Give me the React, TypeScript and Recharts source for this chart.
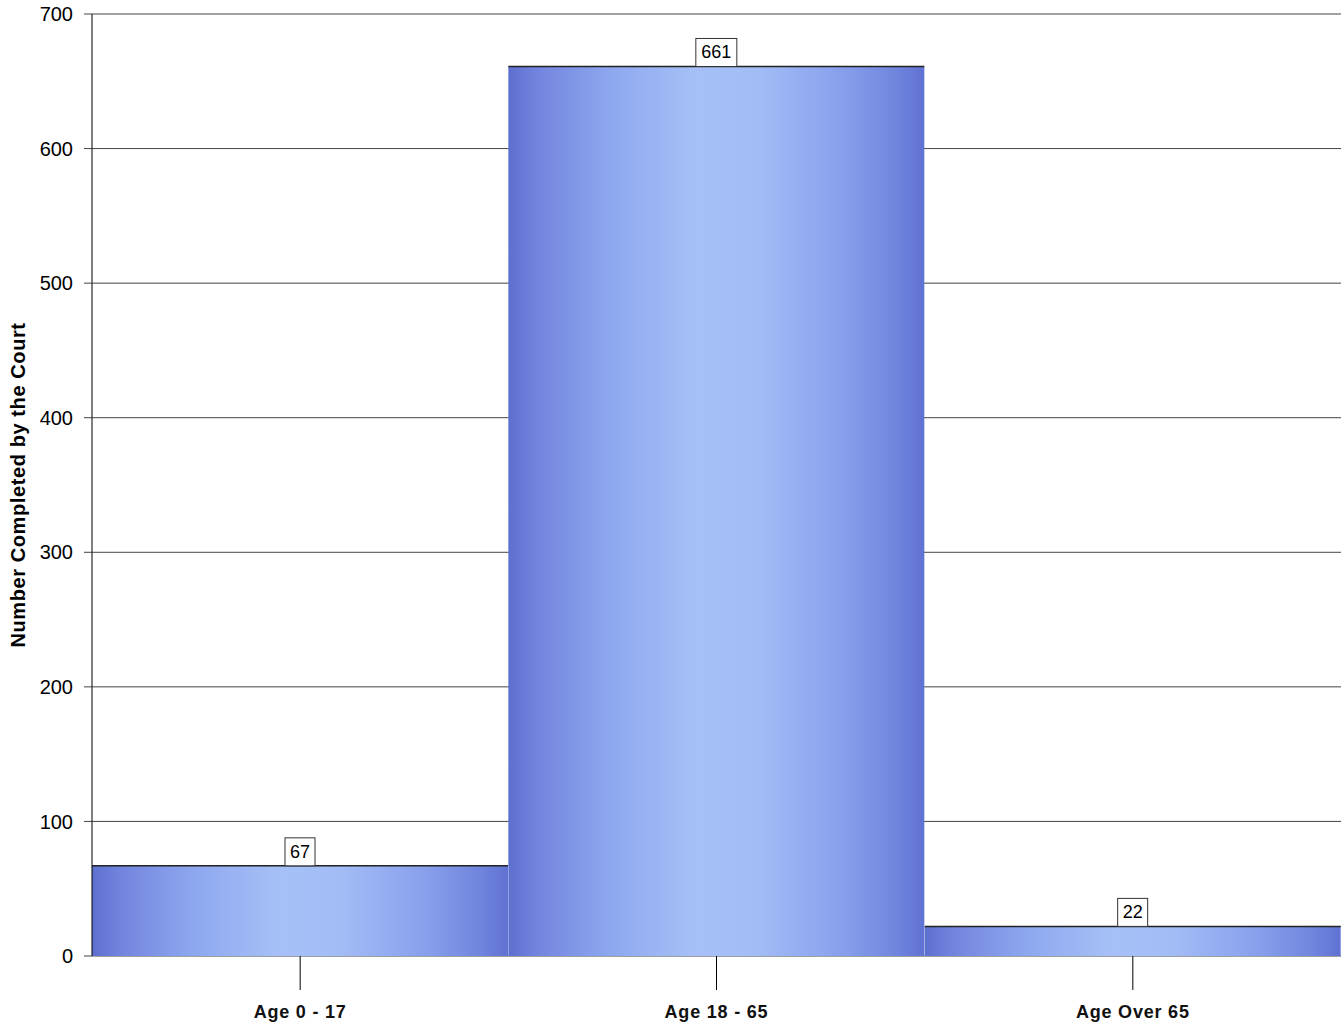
import { BarChart, Bar, XAxis, YAxis, CartesianGrid, LabelList } from 'recharts';

const categories = ['Age 0 - 17', 'Age 18 - 65', 'Age Over 65'];
const completed = [67, 661, 22];
const yTicks = [0, 100, 200, 300, 400, 500, 600, 700];

const data = categories.map((name, i) => ({ name, value: completed[i] }));

function BarShape(props: any) {
  const { x, y, width, height } = props;
  return (
    <g>
      <rect x={x} y={y} width={width} height={height} fill="url(#barFill)" />
      <line x1={x} x2={x + width} y1={y} y2={y} stroke="#222" strokeWidth={1.5} />
    </g>
  );
}

function ValueBox(props: any) {
  const { x, y, width, value } = props;
  const w = String(value).length * 11 + 8;
  const cx = x + width / 2;
  return (
    <g>
      <rect x={cx - w / 2} y={y - 28} width={w} height={28} fill="#fff" stroke="#333" strokeWidth={1} />
      <text x={cx} y={y - 8} textAnchor="middle" fontSize={18} fill="#000" fontFamily="Liberation Sans, Arial, sans-serif">
        {value}
      </text>
    </g>
  );
}

export default function App() {
  return (
    <div style={{ position: 'absolute', left: 0, top: 0, background: '#fff' }}>
      <BarChart
        width={1343}
        height={1029}
        data={data}
        margin={{ top: 14, right: 2, bottom: 13, left: 0 }}
        barCategoryGap={0}
        barGap={0}
        style={{ fontFamily: 'Liberation Sans, Arial, sans-serif' }}
      >
        <defs>
          <linearGradient id="barFill" x1="0" y1="0" x2="1" y2="0">
            <stop offset="0%" stopColor="#5d70cf" />
            <stop offset="8%" stopColor="#7487e0" />
            <stop offset="25%" stopColor="#8ea8ef" />
            <stop offset="45%" stopColor="#a6c0f7" />
            <stop offset="60%" stopColor="#a2bcf6" />
            <stop offset="80%" stopColor="#88a0ec" />
            <stop offset="93%" stopColor="#7086de" />
            <stop offset="100%" stopColor="#6072d2" />
          </linearGradient>
        </defs>
        <CartesianGrid vertical={false} stroke="#444" strokeWidth={1} />
        <XAxis
          dataKey="name"
          tickLine={{ stroke: '#000' }}
          tickSize={34}
          tickMargin={15}
          axisLine={false}
          height={60}
          tick={{ fontSize: 18, fontWeight: 'bold', letterSpacing: 0.8, fill: '#111' }}
        />
        <YAxis
          domain={[0, 700]}
          ticks={yTicks}
          width={92}
          tickSize={8}
          tickMargin={11}
          axisLine={{ stroke: '#000' }}
          tickLine={{ stroke: '#444' }}
          tick={{ fontSize: 20, fill: '#000' }}
          label={{
            value: 'Number Completed by the Court',
            angle: -90,
            position: 'insideLeft',
            offset: 18,
            style: { textAnchor: 'middle', fontSize: 20, fontWeight: 'bold', letterSpacing: 0.6, fill: '#000' },
          }}
        />
        <Bar dataKey="value" shape={<BarShape />} isAnimationActive={false}>
          <LabelList dataKey="value" content={<ValueBox />} />
        </Bar>
      </BarChart>
    </div>
  );
}
